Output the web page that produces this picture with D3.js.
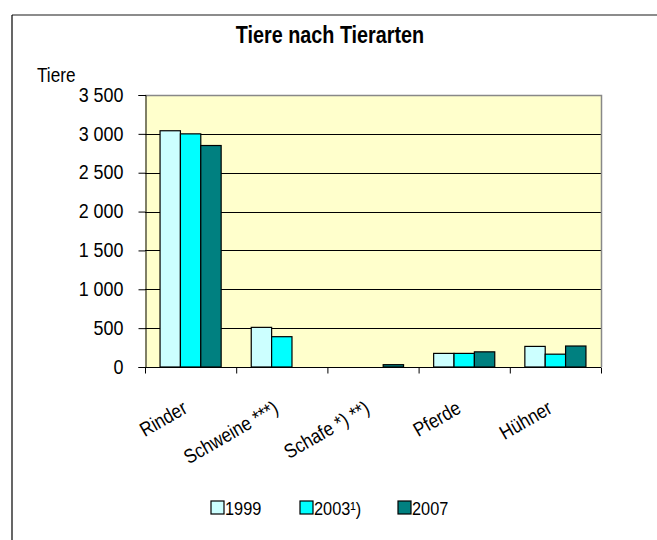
<!DOCTYPE html>
<html>
<head>
<meta charset="utf-8">
<script src="https://cdn.jsdelivr.net/npm/d3@7"></script>
<style>
  body { margin: 0; background: #fff; }
  svg text { font-family: "Liberation Sans", Arial, sans-serif; fill: #000; }
</style>
</head>
<body>
<svg id="svg" width="657" height="540"></svg>
<script>
const categories = ["Rinder", "Schweine ***)", "Schafe *) **)", "Pferde", "Hühner"];
const years = ["1999", "2003¹)", "2007"];
const v1999 = [3040, 510, null, 175, 265];
const v2003 = [3000, 390, null, 175, 165];
const v2007 = [2850, null, 30, 195, 270];
const yTicks = [0, 500, 1000, 1500, 2000, 2500, 3000, 3500];
const colors = ["#ccffff", "#00ffff", "#008080"];

const svg = d3.select("#svg");
const plot = { left: 145, right: 601, top: 95, bottom: 367 };
const SQUEEZE = 0.86; // the original uses a narrow font

const rows = categories.map((c, i) => ({
	cat: c,
	vals: [v1999[i], v2003[i], v2007[i]],
}));

// text drawn at (x,y) and squeezed horizontally
function label(parent, x, y, str, size, anchor, rot) {
	const g = parent.append("g")
		.attr("transform", `translate(${x},${y})` + (rot ? ` rotate(${rot})` : ""));
	return g.append("text")
		.attr("transform", `scale(${SQUEEZE},1)`)
		.attr("text-anchor", anchor || "start")
		.style("font-size", size + "px")
		.text(str);
}

// outer chart border
svg.append("line").attr("x1", 12).attr("x2", 657).attr("y1", 15).attr("y2", 15)
	.attr("stroke", "#666").attr("stroke-width", 1.5);
svg.append("line").attr("x1", 12).attr("x2", 12).attr("y1", 15).attr("y2", 540)
	.attr("stroke", "#000").attr("stroke-width", 1.2);

const x = d3.scaleBand().domain(categories).range([plot.left, plot.right])
	.paddingInner(0.33).paddingOuter(0.165);
const xs = d3.scaleBand().domain(d3.range(years.length)).range([0, x.bandwidth()]);
const y = d3.scaleLinear().domain([0, 3500]).range([plot.bottom, plot.top]);

const fmt = d3.formatLocale({ decimal: ",", thousands: " ", grouping: [3], currency: ["", ""] }).format(",d");

// plot background
svg.append("rect")
	.attr("x", plot.left).attr("y", plot.top)
	.attr("width", plot.right - plot.left).attr("height", plot.bottom - plot.top)
	.attr("fill", "#ffffcc");

// gridlines
svg.append("g")
	.selectAll("line")
	.data(yTicks.filter((t) => t > 0 && t < 3500))
	.join("line")
	.attr("x1", plot.left).attr("x2", plot.right)
	.attr("y1", (d) => Math.round(y(d)) + 0.5).attr("y2", (d) => Math.round(y(d)) + 0.5)
	.attr("stroke", "#000").attr("stroke-width", 1);

// plot border top / right
svg.append("path")
	.attr("d", `M${plot.left},${plot.top + 0.5}H${plot.right + 0.5}V${plot.bottom}`)
	.attr("fill", "none").attr("stroke", "#888").attr("stroke-width", 1.5);

// bars
svg.append("g")
	.selectAll("g")
	.data(rows)
	.join("g")
	.attr("transform", (d) => `translate(${x(d.cat)},0)`)
	.selectAll("rect")
	.data((d) => d.vals.map((v, i) => ({ v, i })).filter((e) => e.v != null))
	.join("rect")
	.attr("x", (d) => xs(d.i))
	.attr("y", (d) => y(d.v))
	.attr("width", xs.bandwidth())
	.attr("height", (d) => plot.bottom - y(d.v))
	.attr("fill", (d) => colors[d.i])
	.attr("stroke", "#000")
	.attr("stroke-width", 1.2);

// y axis
const yAxis = svg.append("g")
	.attr("transform", `translate(${plot.left + 0.5},0)`)
	.call(d3.axisLeft(y).tickValues(yTicks).tickFormat(fmt).tickSize(7).tickPadding(16));
yAxis.select(".domain").attr("stroke", "#000");
yAxis.selectAll(".tick line").attr("stroke", "#000");
yAxis.selectAll(".tick text")
	.attr("x", null)
	.attr("transform", "translate(-22,0) scale(0.92,1)")
	.style("font-size", "19.5px");

// x axis
const xAxis = svg.append("g")
	.attr("transform", `translate(0,${plot.bottom + 0.5})`)
	.call(d3.axisBottom(d3.scaleLinear().domain([0, 5]).range([plot.left, plot.right]))
		.tickValues(d3.range(6)).tickSize(6).tickFormat(""));
xAxis.select(".domain").attr("stroke", "#000").attr("d", `M${plot.left},0H${plot.right}`);
xAxis.selectAll(".tick line").attr("stroke", "#000");

const xLabels = svg.append("g");
categories.forEach((c) => {
	label(xLabels, x(c) + x.bandwidth() / 2 - 2, plot.bottom + 45, c, 20, "end", -30);
});

// titles
label(svg, 330, 43, "Tiere nach Tierarten", 23, "middle").style("font-weight", "bold");
label(svg, 37, 82, "Tiere", 20);

// legend
const legendX = [211, 300, 398];
const legend = svg.append("g")
	.selectAll("g")
	.data(years)
	.join("g")
	.attr("transform", (d, i) => `translate(${legendX[i]},501)`);
legend.append("rect")
	.attr("width", 13).attr("height", 13)
	.attr("fill", (d, i) => colors[i])
	.attr("stroke", "#000").attr("stroke-width", 1.2);
legend.each(function (d) {
	label(d3.select(this), 14, 14, d, 19);
});
</script>
</body>
</html>
